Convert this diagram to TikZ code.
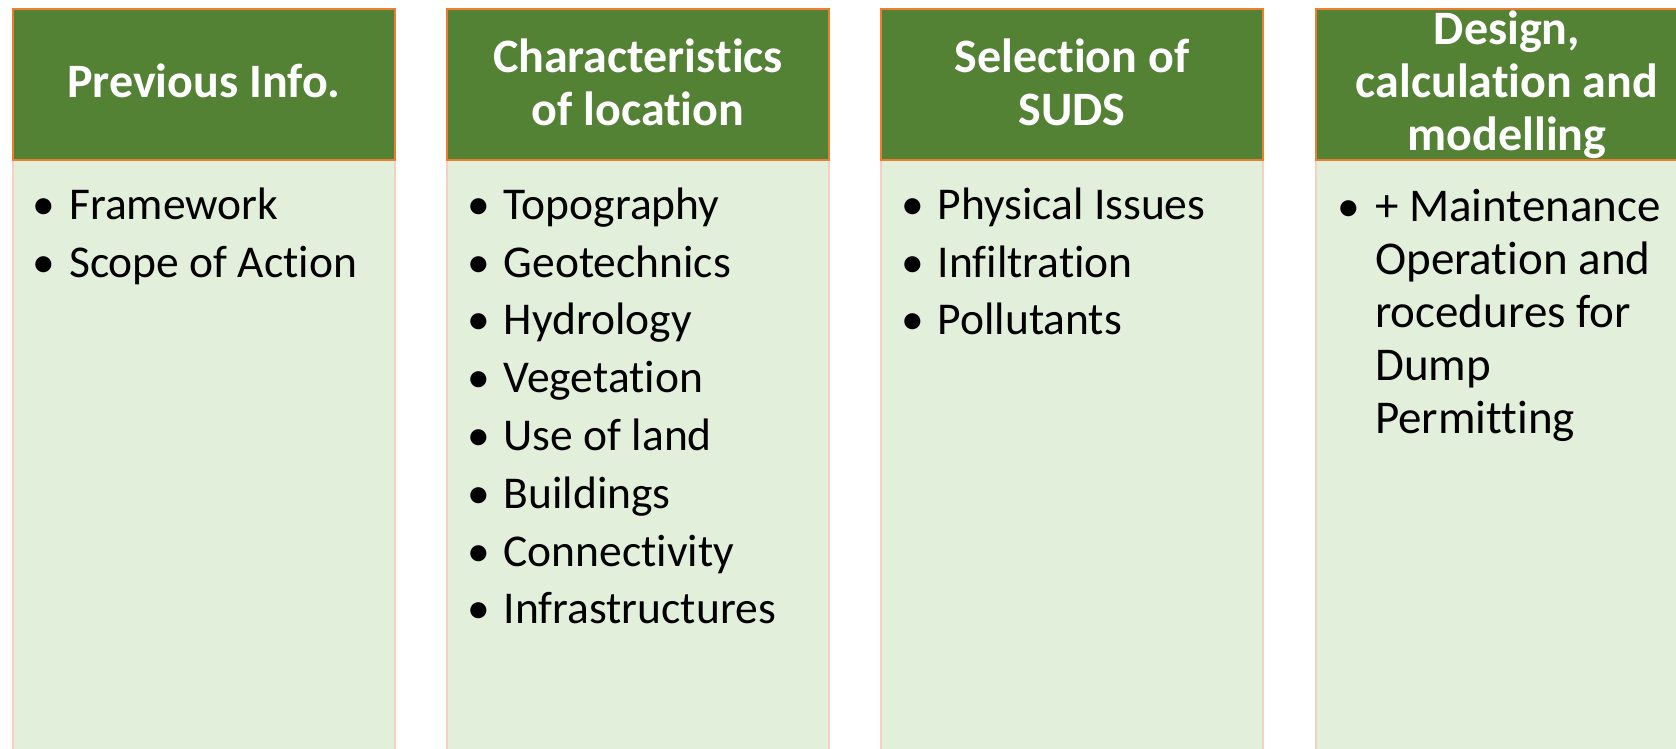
\documentclass[tikz,border=0pt]{standalone}
\usepackage{fontspec}
\setmainfont{Carlito}[RawFeature={-liga}]
\definecolor{hdr}{HTML}{548235}
\definecolor{hdrborder}{HTML}{ED7D31}
\definecolor{bodyfill}{HTML}{E2EFDA}
\definecolor{bodyborder}{HTML}{F6D0C0}
\begin{document}
\begin{tikzpicture}[x=1pt,y=-1pt,
  hdrbox/.style={fill=hdr, draw=hdrborder, line width=1.6pt},
  bodybox/.style={fill=bodyfill, draw=bodyborder, line width=1.6pt},
  htext/.style={font=\fontsize{48}{53}\selectfont\bfseries, text=white, anchor=base, inner sep=0pt},
  btext/.style={font=\fontsize{45.5}{53}\selectfont, text=black, anchor=base west, inner sep=0pt},
  bdot/.style={font=\fontsize{45.5}{53}\selectfont, text=black, anchor=base, inner sep=0pt},
  btextb/.style={btext, font=\fontsize{47}{53}\selectfont}]
\useasboundingbox (0,0) rectangle (1676,749);
\clip (0,0) rectangle (1676,749);
% columns
\foreach \L/\n in {13/1,447/2,881/3,1316/4}{
  \path[bodybox] (\L,160) rectangle ++(382,620);
  \path[hdrbox] (\L,9) rectangle ++(382,151);
}
% headers
\node[htext] (h1) at (204,98) {Previous Info.};
\node[htext] (h2a) at (638,73) {Characteristics};
\node[htext] (h2b) at (638,126) {of location};
\node[htext] (h3a) at (1072,73) {Selection of};
\node[htext] (h3b) at (1072,126) {SUDS};
\node[htext] (h4a) at (1507,45) {Design,};
\node[htext] (h4b) at (1507,98) {calculation and};
\node[htext] (h4c) at (1507,150) {modelling};
% column 1
\foreach \t [count=\i from 0] in {Framework,Scope of Action}{
  \node[bdot] (d1\i) at (44,219.3+57.8*\i) {\textbullet};
  \node[btext] (t1\i) at (69,219.3+57.8*\i) {\t};
}
% column 2
\foreach \t [count=\i from 0] in {Topography,Geotechnics,Hydrology,Vegetation,Use of land,Buildings,Connectivity,Infrastructures}{
  \node[bdot] (d2\i) at (478.5,219.3+57.8*\i) {\textbullet};
  \node[btext] (t2\i) at (503.5,219.3+57.8*\i) {\t};
}
% column 3
\foreach \t [count=\i from 0] in {Physical Issues,Infiltration,Pollutants}{
  \node[bdot] (d3\i) at (912.5,219.3+57.8*\i) {\textbullet};
  \node[btext] (t3\i) at (937.5,219.3+57.8*\i) {\t};
}
% column 4
\node[bdot] (d40) at (1349,221.7) {\textbullet};
\foreach \t [count=\i from 0] in {+ Maintenance,Operation and,rocedures for,Dump,Permitting}{
  \node[btextb] (t4\i) at (1375,221.7+52.9*\i) {\t};
}
\end{tikzpicture}
\end{document}
